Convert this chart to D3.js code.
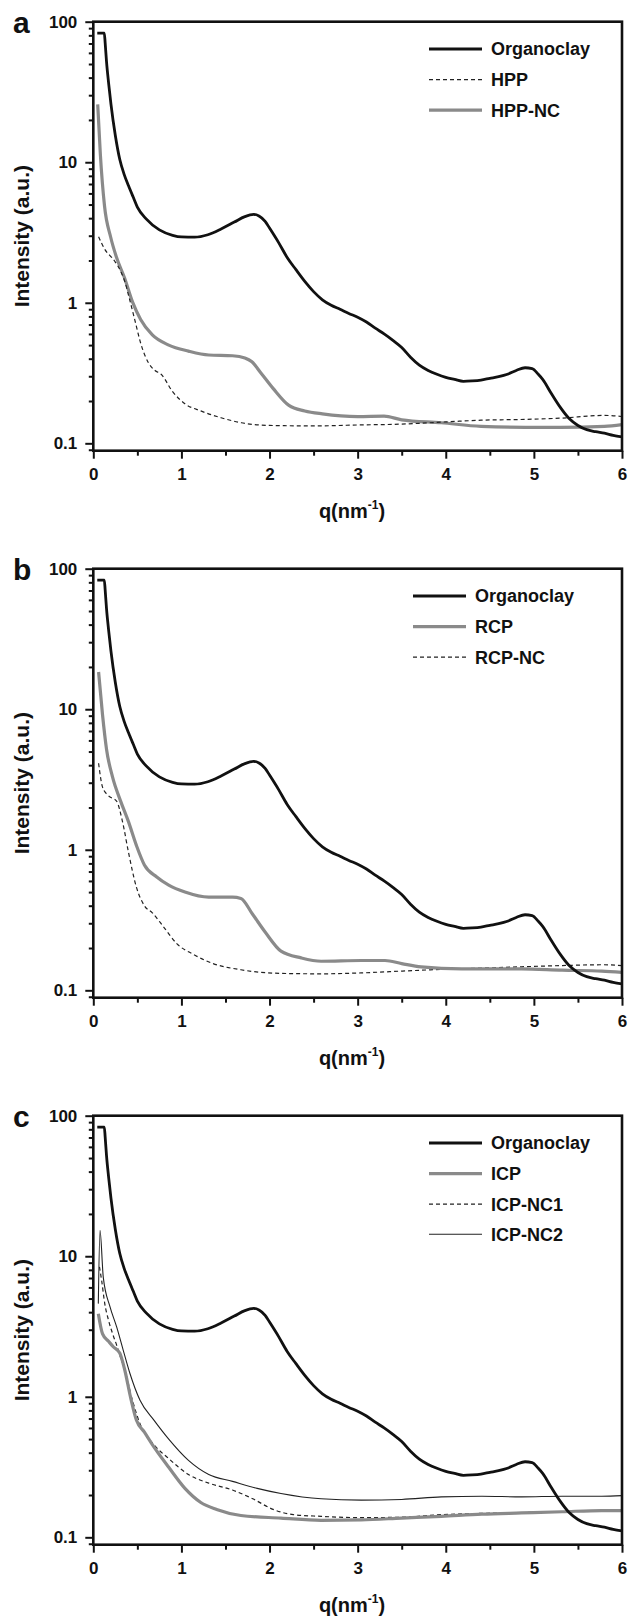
<!DOCTYPE html>
<html>
<head>
<meta charset="utf-8">
<script src="https://cdn.jsdelivr.net/npm/d3@7"></script>
<style>
  body { margin: 0; background: #fff; }
  svg text { font-family: "Liberation Sans", Arial, sans-serif; font-weight: bold; fill: #111; }
</style>
</head>
<body>
<div id="chart"></div>
<script>
// Organoclay curve (same in all three panels)
const qOrgano = [0.045, 0.125, 0.135, 0.15, 0.175, 0.2, 0.25, 0.3, 0.35, 0.4, 0.45, 0.5, 0.6, 0.75, 0.9, 1.0, 1.15, 1.3, 1.45, 1.6, 1.72, 1.82, 1.88, 1.95, 2.0, 2.1, 2.2, 2.3, 2.4, 2.5, 2.6, 2.7, 2.8, 2.9, 3.0, 3.1, 3.2, 3.3, 3.4, 3.5, 3.6, 3.7, 3.8, 3.9, 4.0, 4.1, 4.2, 4.3, 4.4, 4.5, 4.6, 4.7, 4.8, 4.9, 4.98, 5.05, 5.1, 5.2, 5.3, 5.4, 5.5, 5.6, 5.7, 5.8, 5.9, 6.0];
const iOrgano = [83, 83, 70, 52, 36, 26, 15.5, 10.5, 8.2, 6.8, 5.7, 4.8, 3.95, 3.3, 3.02, 2.94, 2.93, 3.05, 3.35, 3.75, 4.1, 4.25, 4.15, 3.8, 3.4, 2.7, 2.1, 1.72, 1.42, 1.2, 1.05, 0.96, 0.9, 0.84, 0.79, 0.73, 0.66, 0.6, 0.54, 0.48, 0.41, 0.36, 0.33, 0.31, 0.295, 0.285, 0.276, 0.278, 0.282, 0.29, 0.298, 0.31, 0.33, 0.345, 0.34, 0.31, 0.285, 0.225, 0.18, 0.15, 0.134, 0.125, 0.121, 0.118, 0.114, 0.111];

// panel a
const qHPP = [0.06, 0.127, 0.24, 0.31, 0.36, 0.40, 0.47, 0.54, 0.63, 0.70, 0.77, 0.9, 1.04, 1.22, 1.45, 1.68, 2.0, 2.5, 3.0, 3.5, 4.0, 4.4, 4.9, 5.3, 5.8, 6.0];
const iHPP = [2.95, 2.42, 1.99, 1.68, 1.4, 1.13, 0.76, 0.51, 0.37, 0.33, 0.31, 0.233, 0.191, 0.17, 0.152, 0.14, 0.134, 0.133, 0.135, 0.137, 0.142, 0.146, 0.148, 0.151, 0.158, 0.155];
const qHPPNC = [0.05, 0.08, 0.127, 0.196, 0.264, 0.355, 0.446, 0.537, 0.67, 0.856, 1.08, 1.31, 1.58, 1.72, 1.80, 1.90, 2.04, 2.22, 2.40, 2.6, 3.0, 3.3, 3.5, 3.95, 4.4, 4.9, 5.3, 5.8, 6.0];
const iHPPNC = [25.8, 11.4, 4.9, 2.95, 2.1, 1.5, 1.01, 0.76, 0.59, 0.5, 0.453, 0.425, 0.42, 0.405, 0.38, 0.318, 0.246, 0.186, 0.17, 0.162, 0.155, 0.156, 0.147, 0.14, 0.132, 0.13, 0.13, 0.132, 0.136];

// panel b
const qRCP = [0.06, 0.105, 0.15, 0.218, 0.31, 0.40, 0.49, 0.58, 0.72, 0.856, 1.04, 1.31, 1.58, 1.675, 1.81, 1.95, 2.13, 2.36, 2.585, 3.04, 3.31, 3.5, 3.72, 4.18, 4.86, 5.32, 5.77, 6.0];
const iRCP = [18.4, 9.1, 5.2, 3.3, 2.22, 1.58, 1.07, 0.78, 0.64, 0.56, 0.50, 0.46, 0.46, 0.45, 0.346, 0.26, 0.19, 0.17, 0.161, 0.163, 0.163, 0.155, 0.147, 0.142, 0.142, 0.139, 0.137, 0.134];
const qRCPNC = [0.06, 0.105, 0.173, 0.264, 0.332, 0.40, 0.49, 0.58, 0.67, 0.81, 0.95, 1.13, 1.36, 1.675, 2.13, 2.585, 3.04, 3.5, 3.95, 4.41, 4.86, 5.32, 5.77, 6.0];
const iRCPNC = [4.13, 2.79, 2.42, 2.22, 1.58, 0.955, 0.54, 0.40, 0.356, 0.276, 0.214, 0.181, 0.155, 0.14, 0.132, 0.131, 0.133, 0.137, 0.141, 0.144, 0.147, 0.15, 0.152, 0.15];

// panel c
const qICP = [0.057, 0.105, 0.173, 0.226, 0.3, 0.355, 0.423, 0.49, 0.58, 0.67, 0.856, 1.04, 1.22, 1.40, 1.675, 2.13, 2.585, 3.04, 3.5, 3.95, 4.41, 4.86, 5.32, 5.77, 6.0];
const iICP = [3.9, 2.8, 2.48, 2.27, 2.05, 1.57, 0.99, 0.68, 0.56, 0.457, 0.315, 0.223, 0.177, 0.158, 0.143, 0.137, 0.132, 0.133, 0.137, 0.141, 0.146, 0.149, 0.152, 0.155, 0.155];
const qICPNC1 = [0.07, 0.095, 0.13, 0.173, 0.22, 0.264, 0.31, 0.355, 0.446, 0.537, 0.67, 0.856, 1.08, 1.31, 1.58, 1.81, 2.04, 2.27, 2.585, 3.04, 3.5, 3.95, 4.41, 4.86, 5.32, 5.77, 6.0];
const iICPNC1 = [8.4, 6.7, 4.6, 3.5, 2.8, 2.34, 1.9, 1.57, 0.935, 0.627, 0.47, 0.363, 0.28, 0.243, 0.217, 0.188, 0.158, 0.145, 0.141, 0.138, 0.139, 0.145, 0.148, 0.15, 0.152, 0.155, 0.155];
const qICPNC2 = [0.057, 0.076, 0.113, 0.19, 0.265, 0.34, 0.415, 0.53, 0.69, 0.856, 1.08, 1.31, 1.58, 1.86, 2.13, 2.585, 3.04, 3.5, 3.95, 4.41, 4.86, 5.32, 5.77, 6.0];
const iICPNC2 = [4.6, 15.3, 7.1, 4.36, 3.14, 2.14, 1.47, 0.944, 0.68, 0.5, 0.353, 0.28, 0.25, 0.223, 0.205, 0.188, 0.184, 0.186, 0.194, 0.196, 0.194, 0.196, 0.196, 0.198];

const yMajor = [0.1, 1, 10, 100];
const xMajor = [0, 1, 2, 3, 4, 5, 6];
const xLabel = "q(nm";

// line looks
const styles = {
  organo: { stroke: "#111", width: 2.8, dash: null },
  gray:   { stroke: "#8a8a8a", width: 3.2, dash: null },
  dashed: { stroke: "#222", width: 1.2, dash: "4,3" },
  thin:   { stroke: "#222", width: 1.1, dash: null }
};

const panels = [
  { letter: "a", top: 21.7, legendX: 429, series: [
    { name: "Organoclay", q: qOrgano, v: iOrgano, style: "organo" },
    { name: "HPP", q: qHPP, v: iHPP, style: "dashed" },
    { name: "HPP-NC", q: qHPPNC, v: iHPPNC, style: "gray" }
  ]},
  { letter: "b", top: 568.7, legendX: 413, series: [
    { name: "Organoclay", q: qOrgano, v: iOrgano, style: "organo" },
    { name: "RCP", q: qRCP, v: iRCP, style: "gray" },
    { name: "RCP-NC", q: qRCPNC, v: iRCPNC, style: "dashed" }
  ]},
  { letter: "c", top: 1115.7, legendX: 429, series: [
    { name: "Organoclay", q: qOrgano, v: iOrgano, style: "organo" },
    { name: "ICP", q: qICP, v: iICP, style: "gray" },
    { name: "ICP-NC1", q: qICPNC1, v: iICPNC1, style: "dashed" },
    { name: "ICP-NC2", q: qICPNC2, v: iICPNC2, style: "thin" }
  ]}
];

const width = 630, height = 1620;
const plotLeft = 93.3, plotRight = 622, plotH = 429;

const svg = d3.select("#chart").append("svg")
  .attr("width", width)
  .attr("height", height);

const x = d3.scaleLinear().domain([0, 6]).range([plotLeft, plotRight]);

function yMinors() {
  let out = [];
  [0.01, 0.1, 1, 10].forEach(function (d) {
    for (let k = 2; k <= 9; k++) {
      const v = d * k;
      if (v >= 0.0886 && v < 100 && yMajor.indexOf(v) < 0) out.push(v);
    }
  });
  return out;
}

panels.forEach(function (p, pi) {
  const top = p.top, bottom = top + plotH;
  const y = d3.scaleLog().domain([0.0886, 100]).range([bottom, top]);
  const g = svg.append("g");

  g.append("clipPath").attr("id", "clip" + pi)
    .append("rect")
    .attr("x", plotLeft).attr("y", top)
    .attr("width", plotRight - plotLeft).attr("height", plotH);

  // y axis
  g.append("g").attr("transform", "translate(" + plotLeft + ",0)")
    .call(d3.axisLeft(y).tickValues(yMajor).tickSize(8).tickSizeOuter(0).tickPadding(8)
      .tickFormat(function (d) { return String(d); }));
  g.append("g").attr("transform", "translate(" + plotLeft + ",0)")
    .call(d3.axisLeft(y).tickValues(yMinors()).tickSize(4.5).tickSizeOuter(0).tickFormat(""));

  // x axis
  g.append("g").attr("transform", "translate(0," + bottom + ")")
    .call(d3.axisBottom(x).tickValues(xMajor).tickSize(8).tickSizeOuter(0).tickPadding(9)
      .tickFormat(d3.format("d")));
  g.append("g").attr("transform", "translate(0," + bottom + ")")
    .call(d3.axisBottom(x).tickValues([0.5, 1.5, 2.5, 3.5, 4.5, 5.5]).tickSize(5).tickSizeOuter(0).tickFormat(""));

  g.selectAll(".domain").remove();
  g.selectAll(".tick line").attr("stroke", "#111").attr("stroke-width", 2);
  g.selectAll(".tick text").style("font-size", "17px").attr("fill", "#111");

  // curves
  const line = d3.line()
    .x(function (d) { return x(d[0]); })
    .y(function (d) { return y(d[1]); })
    .curve(d3.curveMonotoneX);

  const lines = g.append("g").attr("clip-path", "url(#clip" + pi + ")");
  // draw in reverse so Organoclay sits on top
  p.series.slice().reverse().forEach(function (s) {
    const st = styles[s.style];
    lines.append("path")
      .datum(d3.zip(s.q, s.v))
      .attr("d", line)
      .attr("fill", "none")
      .attr("stroke", st.stroke)
      .attr("stroke-width", st.width)
      .attr("stroke-dasharray", st.dash)
      .attr("stroke-linejoin", "round");
  });

  // frame
  g.append("rect")
    .attr("x", plotLeft).attr("y", top)
    .attr("width", plotRight - plotLeft).attr("height", plotH)
    .attr("fill", "none").attr("stroke", "#111").attr("stroke-width", 2.6);

  // legend
  const legOff = [27.3, 58, 88.5, 118.5];
  p.series.forEach(function (s, i) {
    const st = styles[s.style];
    const ly = top + legOff[i];
    g.append("line")
      .attr("x1", p.legendX).attr("x2", p.legendX + 53)
      .attr("y1", ly).attr("y2", ly)
      .attr("stroke", st.stroke)
      .attr("stroke-width", st.width)
      .attr("stroke-dasharray", st.dash);
    g.append("text")
      .attr("x", p.legendX + 62).attr("y", ly)
      .attr("dy", "0.36em")
      .style("font-size", "18px")
      .text(s.name);
  });

  // panel letter
  g.append("text")
    .attr("x", 13).attr("y", top + 11)
    .style("font-size", "30px")
    .text(p.letter);

  // axis titles
  g.append("text")
    .attr("transform", "translate(29," + (top + plotH / 2) + ") rotate(-90)")
    .attr("text-anchor", "middle")
    .style("font-size", "21px")
    .text("Intensity (a.u.)");

  const xt = g.append("text")
    .attr("x", 352).attr("y", bottom + 67)
    .attr("text-anchor", "middle")
    .style("font-size", "20px");
  xt.append("tspan").text(xLabel);
  xt.append("tspan").attr("dy", -9).style("font-size", "12px").text("-1");
  xt.append("tspan").attr("dy", 9).text(")");
});
</script>
</body>
</html>
